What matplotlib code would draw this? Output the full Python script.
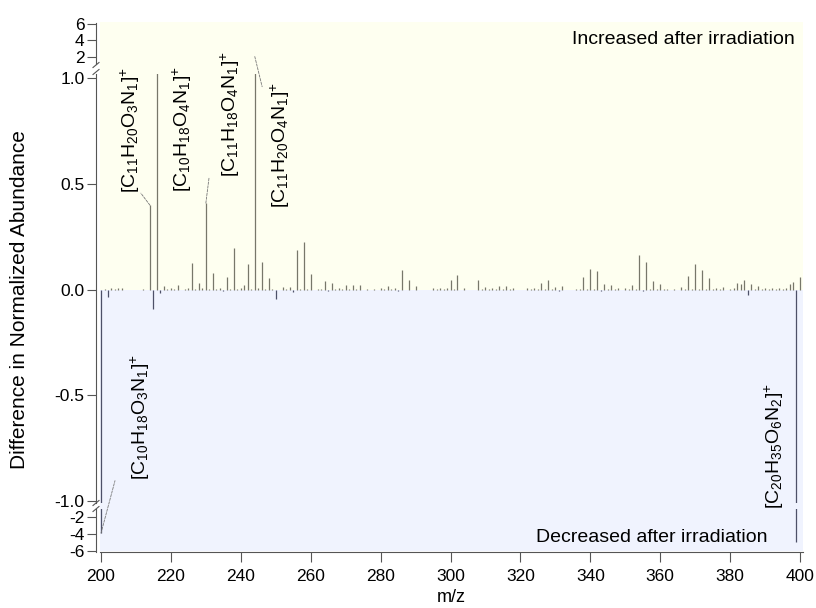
import numpy as np
import matplotlib
matplotlib.use('Agg')
import matplotlib.pyplot as plt
from matplotlib.patches import Rectangle, ConnectionPatch
from matplotlib.lines import Line2D

plt.rcParams['font.family'] = ['Liberation Sans', 'DejaVu Sans']
plt.rcParams['mathtext.fontset'] = 'custom'
plt.rcParams['mathtext.rm'] = 'Liberation Sans'
plt.rcParams['mathtext.it'] = 'Liberation Sans:italic'
plt.rcParams['axes.unicode_minus'] = False

# data: unit m/z and difference in normalized abundance
mz = [200, 201, 202, 203, 204, 205, 206, 212, 214, 215, 216, 217, 218, 219, 220, 221, 222,
      224, 225, 226, 227, 228, 229, 230, 231, 232, 233, 234, 235, 236, 237, 238, 239, 240,
      241, 242, 243, 244, 245, 246, 247, 248, 249, 250, 252, 253, 254, 255, 256, 257, 258,
      259, 260, 262, 263, 264, 265, 266, 267, 268, 269, 270, 271, 272, 273, 274, 276, 278,
      280, 281, 282, 283, 284, 285, 286, 288, 290, 295, 296, 297, 298, 299, 300, 301, 302,
      304, 308, 309, 310, 311, 312, 313, 314, 315, 316, 317, 318, 322, 323, 324, 325, 326,
      327, 328, 329, 330, 331, 332, 336, 337, 338, 339, 340, 341, 342, 343, 344, 345, 346,
      347, 348, 349, 350, 351, 352, 353, 354, 355, 356, 357, 358, 359, 360, 361, 362, 364,
      366, 367, 368, 369, 370, 371, 372, 373, 374, 375, 376, 377, 378, 380, 381, 382, 383,
      384, 385, 386, 387, 388, 389, 390, 391, 392, 393, 394, 395, 396, 397, 398, 399, 400]
diff = [-3.9, 0.005, -0.035, 0.006, 0.004, 0.006, 0.008, 0.004, 0.40, -0.09, 2.85, -0.015, 0.016, 0.005, 0.008, 0.004, 0.02,
        0.004, 0.006, 0.128, 0.004, 0.03, 0.006, 0.41, 0.005, 0.077, 0.004, 0.006, -0.005, 0.06, 0.004, 0.198, 0.005, 0.01,
        0.02, 0.12, 0.004, 2.05, 0.006, 0.13, 0.004, 0.057, 0.004, -0.043, 0.013, 0.004, 0.013, -0.01, 0.19, 0.003, 0.226,
        0.004, 0.076, 0.003, 0.003, 0.04, -0.004, 0.03, 0.004, 0.006, 0.003, 0.024, 0.003, 0.024, 0.004, 0.02, 0.004, 0.004,
        0.01, 0.003, 0.016, 0.004, 0.01, -0.006, 0.095, 0.047, 0.016, 0.006, 0.004, 0.008, 0.004, 0.006, 0.047, 0.004, 0.072,
        0.008, 0.045, 0.004, 0.013, 0.003, 0.01, 0.004, 0.016, 0.003, 0.019, 0.003, 0.006, 0.006, 0.004, 0.006, 0.004, 0.03,
        0.003, 0.045, 0.003, 0.013, -0.004, 0.016, 0.004, 0.003, 0.06, 0.004, 0.1, 0.004, 0.087, -0.004, 0.028, 0.003, 0.02,
        0.003, 0.006, -0.003, 0.006, 0.003, 0.02, 0.004, 0.163, -0.004, 0.13, 0.004, 0.041, 0.003, 0.028, 0.003, 0.004, 0.004,
        0.013, 0.004, 0.063, 0.004, 0.12, 0.004, 0.091, 0.003, 0.055, 0.004, 0.01, 0.003, 0.013, 0.004, 0.006, 0.03, 0.028,
        0.045, -0.027, 0.025, 0.004, 0.016, 0.004, 0.008, 0.003, 0.006, 0.004, 0.006, 0.003, 0.008, 0.028, 0.035, -4.9, 0.06]

# tagged ions
tag_mz = [214, 216, 230, 244, 200, 399]
tag_text = [r'$[\mathrm{C_{11}H_{20}O_{3}N_{1}}]^{+}$',
            r'$[\mathrm{C_{10}H_{18}O_{4}N_{1}}]^{+}$',
            r'$[\mathrm{C_{11}H_{18}O_{4}N_{1}}]^{+}$',
            r'$[\mathrm{C_{11}H_{20}O_{4}N_{1}}]^{+}$',
            r'$[\mathrm{C_{10}H_{18}O_{3}N_{1}}]^{+}$',
            r'$[\mathrm{C_{20}H_{35}O_{6}N_{2}}]^{+}$']

xticks = [200, 220, 240, 260, 280, 300, 320, 340, 360, 380, 400]
top_ticks = [2, 4, 6]
mid_ticks = [-1.0, -0.5, 0.0, 0.5, 1.0]
bot_ticks = [-2, -4, -6]

mz = np.array(mz)
diff = np.array(diff)

W, H = 816, 608
fig = plt.figure(figsize=(W / 100, H / 100), dpi=100)

def box(top_px, bot_px):
    return [100 / W, (H - bot_px) / H, 703 / W, (bot_px - top_px) / H]

ax_top = fig.add_axes(box(23, 64))
ax_mid = fig.add_axes(box(74, 503))
ax_bot = fig.add_axes(box(509, 552))
xlim = (199.71, 400.86)
ax_top.set_ylim(1.15, 6.12)
ax_mid.set_ylim(-1.0095, 1.021)
ax_bot.set_ylim(-6.12, -1.06)

spine_col = '#555555'
for ax in (ax_top, ax_mid, ax_bot):
    ax.set_xlim(*xlim)
    ax.set_facecolor('none')
    for s in ('top', 'right'):
        ax.spines[s].set_visible(False)
    ax.spines['left'].set_position(('outward', 3))
    ax.spines['left'].set_color(spine_col)
    ax.spines['bottom'].set_color(spine_col)
    ax.tick_params(axis='y', direction='out', length=6.5, width=0.8, color=spine_col,
                   labelsize=12.5, pad=1.5)
for ax in (ax_top, ax_mid):
    ax.spines['bottom'].set_visible(False)
    ax.tick_params(axis='x', bottom=False, labelbottom=False)

ax_top.set_yticks(top_ticks)
ax_top.set_yticklabels([str(t) for t in top_ticks])
ax_mid.set_yticks(mid_ticks)
ax_mid.set_yticklabels(['%.1f' % t for t in mid_ticks])
ax_bot.set_yticks(bot_ticks)
ax_bot.set_yticklabels([str(t) for t in bot_ticks])
ax_bot.set_xticks(xticks)
ax_bot.tick_params(axis='x', direction='out', length=7, width=0.8, color=spine_col,
                   labelsize=12.5, pad=5)

# background: yellow above zero, lavender below
inv = fig.transFigure.inverted()
y0 = inv.transform(ax_mid.transData.transform((300, 0)))[1]
fig.patches.append(Rectangle((100 / W, y0), 703 / W, (H - 22) / H - y0,
                             transform=fig.transFigure, facecolor='#fefff0',
                             edgecolor='none', zorder=-10))
fig.patches.append(Rectangle((100 / W, (H - 551) / H), 703 / W, y0 - (H - 551) / H,
                             transform=fig.transFigure, facecolor='#f0f3fe',
                             edgecolor='none', zorder=-10))

# sticks
pos = diff > 0
ax_mid.vlines(mz[pos], 0, diff[pos], color='#77776a', lw=0.9)
ax_mid.vlines(mz[~pos], 0, diff[~pos], color='#4d5068', lw=0.9)
ax_bot.vlines(mz[~pos], 0, diff[~pos], color='#4d5068', lw=0.9)

# axis break marks
for ypx in (65, 72, 503, 509):
    yf = (H - ypx) / H
    fig.add_artist(Line2D([93 / W, 99 / W], [yf - 2.5 / H, yf + 2.5 / H],
                          transform=fig.transFigure, color=spine_col, lw=0.8))

# tags: label position (x, y of label bottom in ax_mid data), leader end points
lead = dict(color='#777777', lw=0.6, ls=(0, (3, 1.5)))
peak_val = dict(zip(mz.tolist(), diff.tolist()))
tag_pos = [(208.3, 0.457), (223.2, 0.463), (236.9, 0.534), (251.2, 0.387),
           (211.2, -0.899), (392.8, -1.037)]
tag_lead = [(211.4, 0.457), (217.7, 1.04), (230.9, 0.529), (246.1, 0.961),
            (204.0, -0.904), (395.1, -1.056)]
for m, txt, (tx, ty), (lx, ly) in zip(tag_mz, tag_text, tag_pos, tag_lead):
    ax_mid.text(tx, ty, txt, rotation=90, ha='center', va='bottom', fontsize=14,
                clip_on=False)
    v = peak_val[m]
    if v > 1.0:
        axA = ax_top
    elif v < -1.0:
        axA = ax_bot
    else:
        axA = ax_mid
    cp = ConnectionPatch((m, v), (lx, ly), 'data', 'data', axesA=axA, axesB=ax_mid, **lead)
    fig.add_artist(cp)

ax_top.text(398.6, 4.18, 'Increased after irradiation', ha='right', va='center', fontsize=14)
ax_bot.text(390.6, -4.47, 'Decreased after irradiation', ha='right', va='center', fontsize=14)

fig.text(20 / W, (H - 300) / H, 'Difference in Normalized Abundance', rotation=90,
         ha='center', va='center', fontsize=15)
fig.text(451 / W, (H - 597) / H, 'm/z', ha='center', va='center', fontsize=13)

fig.savefig('out.png', dpi=100)
